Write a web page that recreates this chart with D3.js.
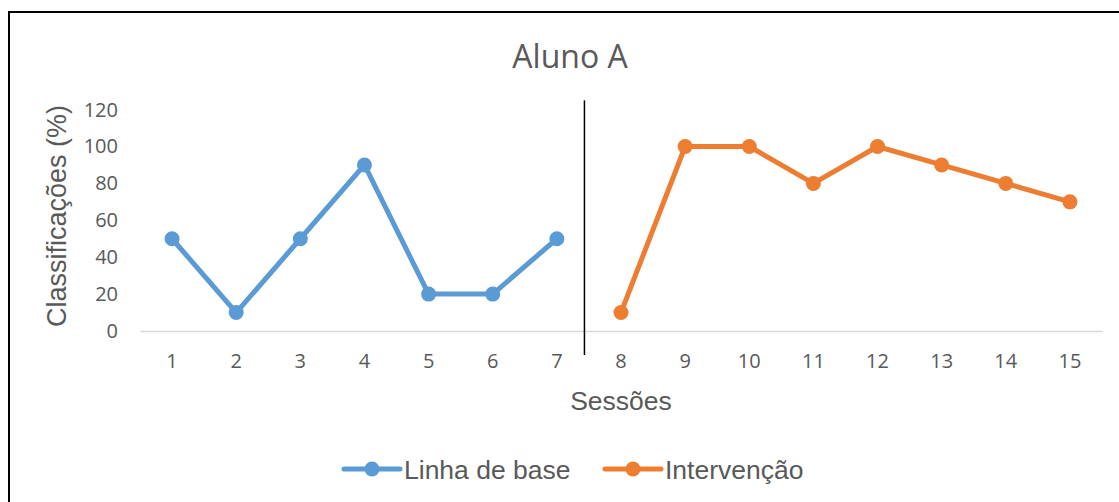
<!DOCTYPE html>
<html>
<head>
<meta charset="utf-8">
<script src="https://cdn.jsdelivr.net/npm/d3@7"></script>
<style>
  html, body { margin: 0; padding: 0; background: #fff; }
  svg { display: block; }
</style>
</head>
<body>
<svg id="chart" width="1119" height="502"></svg>
<script>
// Session numbers on the x axis
const sessions = [1, 2, 3, 4, 5, 6, 7, 8, 9, 10, 11, 12, 13, 14, 15];
// Baseline phase (sessions 1–7)
const baselineSessions = [1, 2, 3, 4, 5, 6, 7];
const baselineValues = [50, 10, 50, 90, 20, 20, 50];
// Intervention phase (sessions 8–15)
const interventionSessions = [8, 9, 10, 11, 12, 13, 14, 15];
const interventionValues = [10, 100, 100, 80, 100, 90, 80, 70];
// Y axis ticks
const yTicks = [0, 20, 40, 60, 80, 100, 120];
// Phase-change marker: session position and vertical extent in value units
const phaseChangeAt = 7.43;
const phaseChangeTop = 125;
const phaseChangeBottom = -13;

const seriesNames = ["Linha de base", "Intervenção"];
const seriesColors = ["#5B9BD5", "#ED7D31"];

const svg = d3.select("#chart");
const textColor = "#595959";
const axisFont = "'Liberation Sans', Arial, sans-serif";
const tickFont = "'Open Sans', 'Noto Sans', sans-serif";

const plot = { left: 140, right: 1102, top: 109.6, bottom: 331 };

const x = d3.scaleBand()
  .domain(sessions)
  .range([plot.left, plot.right]);
const xPos = d => x(d) + x.bandwidth() / 2;
// continuous version of the session axis for the phase-change line
const xLin = d3.scaleLinear()
  .domain([sessions[0], sessions[sessions.length - 1]])
  .range([xPos(sessions[0]), xPos(sessions[sessions.length - 1])]);

const y = d3.scaleLinear()
  .domain([0, 120])
  .range([plot.bottom, plot.top]);

// Chart frame (top and left edges)
svg.append("path")
  .attr("d", "M9,502 V12 H1119")
  .attr("fill", "none")
  .attr("stroke", "#000")
  .attr("stroke-width", 2);

// Title
svg.append("text")
  .attr("x", 570)
  .attr("y", 68)
  .attr("text-anchor", "middle")
  .attr("font-family", tickFont)
  .attr("font-size", 32)
  .attr("fill", textColor)
  .text("Aluno A");

// X axis
const xAxis = svg.append("g")
  .attr("transform", `translate(0,${plot.bottom})`)
  .call(d3.axisBottom(x).tickSize(0).tickPadding(23));
xAxis.select(".domain").attr("stroke", "#D9D9D9").attr("stroke-width", 1.5);
xAxis.selectAll("text")
  .attr("font-family", tickFont)
  .attr("font-size", 20)
  .attr("fill", textColor);

// Y axis (labels only)
const yAxis = svg.append("g")
  .attr("transform", `translate(${plot.left},0)`)
  .call(d3.axisLeft(y).tickValues(yTicks).tickSize(0).tickPadding(22));
yAxis.select(".domain").remove();
yAxis.selectAll("text")
  .attr("font-family", tickFont)
  .attr("font-size", 20)
  .attr("fill", textColor);

// Axis titles
svg.append("text")
  .attr("transform", `translate(66,216) rotate(-90)`)
  .attr("text-anchor", "middle")
  .attr("font-family", axisFont)
  .attr("font-size", 27)
  .attr("fill", textColor)
  .text("Classificações (%)");

svg.append("text")
  .attr("x", (plot.left + plot.right) / 2)
  .attr("y", 410)
  .attr("text-anchor", "middle")
  .attr("font-family", axisFont)
  .attr("font-size", 26.5)
  .attr("fill", textColor)
  .text("Sessões");

// Phase-change line
svg.append("line")
  .attr("x1", xLin(phaseChangeAt))
  .attr("x2", xLin(phaseChangeAt))
  .attr("y1", y(phaseChangeTop))
  .attr("y2", y(phaseChangeBottom))
  .attr("stroke", "#000")
  .attr("stroke-width", 1.5);

// Series
const series = [
  { name: seriesNames[0], color: seriesColors[0],
    points: baselineSessions.map((s, i) => ({ s, v: baselineValues[i] })) },
  { name: seriesNames[1], color: seriesColors[1],
    points: interventionSessions.map((s, i) => ({ s, v: interventionValues[i] })) }
];

const line = d3.line().x(d => xPos(d.s)).y(d => y(d.v));

series.forEach(sr => {
  svg.append("path")
    .datum(sr.points)
    .attr("d", line)
    .attr("fill", "none")
    .attr("stroke", sr.color)
    .attr("stroke-width", 5)
    .attr("stroke-linejoin", "round")
    .attr("stroke-linecap", "round");
  svg.append("g")
    .selectAll("circle")
    .data(sr.points)
    .join("circle")
    .attr("cx", d => xPos(d.s))
    .attr("cy", d => y(d.v))
    .attr("r", 7.5)
    .attr("fill", sr.color);
});

// Legend
const legendItems = [
  { x: 344, name: seriesNames[0], color: seriesColors[0] },
  { x: 605, name: seriesNames[1], color: seriesColors[1] }
];
const legendY = 469;
const lg = svg.append("g")
  .selectAll("g")
  .data(legendItems)
  .join("g")
  .attr("transform", d => `translate(${d.x},${legendY})`);
lg.append("line")
  .attr("x1", 0).attr("x2", 56)
  .attr("stroke", d => d.color)
  .attr("stroke-width", 5)
  .attr("stroke-linecap", "round");
lg.append("circle")
  .attr("cx", 28)
  .attr("r", 7.5)
  .attr("fill", d => d.color);
lg.append("text")
  .attr("x", 60)
  .attr("y", 9.5)
  .attr("font-family", axisFont)
  .attr("font-size", 26.5)
  .attr("fill", textColor)
  .text(d => d.name);
</script>
</body>
</html>
